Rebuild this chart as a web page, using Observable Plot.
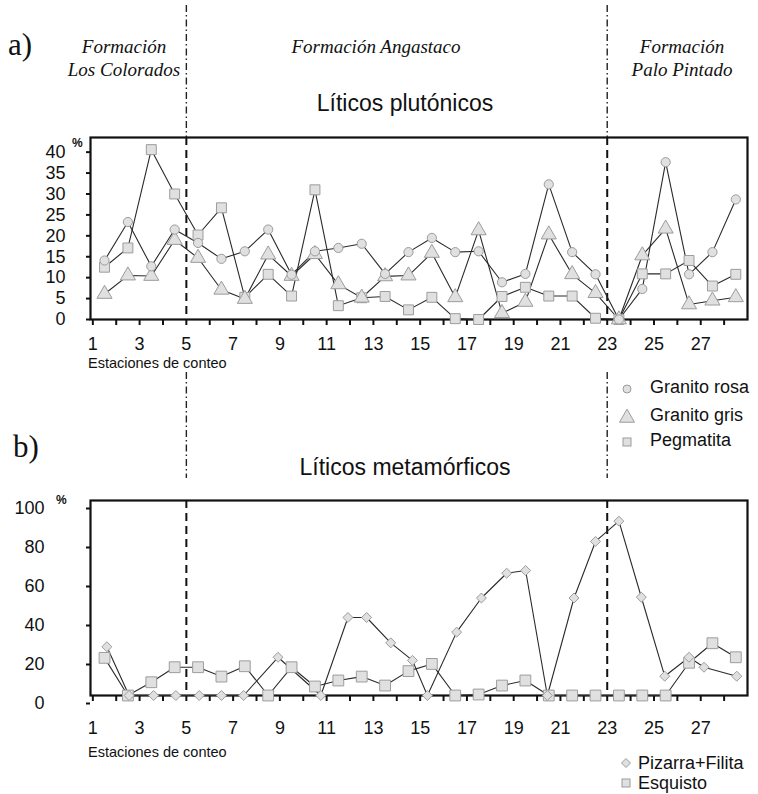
<!DOCTYPE html>
<html><head><meta charset="utf-8">
<script src="https://cdn.jsdelivr.net/npm/d3@7"></script>
<script src="https://cdn.jsdelivr.net/npm/@observablehq/plot@0.6"></script>
<style>
body{margin:0;background:#fff;}
#wrap{position:relative;width:758px;height:794px;font-family:"Liberation Sans",Arial,sans-serif;color:#111;overflow:hidden;}
#wrap svg.chart{position:absolute;left:0;}
.abs{position:absolute;white-space:nowrap;}
.form{font-family:"Liberation Serif",serif;font-style:italic;font-size:19px;line-height:23px;text-align:center;width:220px;}
.panel{font-family:"Liberation Serif",serif;font-size:31px;line-height:30px;}
.title{font-size:23px;line-height:26px;width:300px;text-align:center;}
.pct{font-size:12px;font-weight:bold;line-height:14px;}
.xl{font-size:14.5px;line-height:16px;}
.leg{font-size:18px;line-height:20px;}
</style></head><body><div id="wrap"></div>
<script>
// ---- data ----
const stations = d3.range(1, 29);            // counting stations 1..28
const boundaries = [5, 23];                   // formation boundaries
const formations = ["Formación\nLos Colorados", "Formación Angastaco", "Formación\nPalo Pintado"];

// a) Líticos plutónicos (%), one value per station (plotted mid-station)
const granitoRosa = [14.1, 23.3, 12.7, 21.5, 18.3, 14.5, 16.3, 21.5, 10.7, 16.3, 17.1, 18.1, 10.9, 16.1,
                     19.5, 16.1, 16.3, 8.9, 10.9, 32.3, 16.1, 10.8, 0, 7.3, 37.6, 10.8, 16.1, 28.7];
const granitoGris = [6.1, 10.5, 10.4, 19.0, 14.7, 7.1, 4.9, 15.5, 10.4, 15.6, 8.4, 5.2, 10.3, 10.5,
                     15.9, 5.3, 21.3, 1.5, 4.2, 20.3, 10.8, 6.3, 0, 15.3, 21.7, 3.6, 4.5, 5.3];
const pegmatita   = [12.5, 17.1, 40.6, 30.0, 20.2, 26.7, 5.3, 10.8, 5.6, 31.0, 3.3, 5.2, 5.5, 2.3,
                     5.3, 0.2, 0, 5.5, 7.7, 5.6, 5.6, 0.3, 0, 10.9, 10.9, 14.1, 8.0, 10.8];

// b) Líticos metamórficos (%)
const pizarraX = [1.6, 2.55, 3.6, 4.55, 5.55, 6.5, 7.45, 8.92, 10.75, 11.91, 12.71, 13.74, 14.67, 15.31,
                  16.56, 17.62, 18.7, 19.51, 20.44, 21.58, 22.5, 23.5, 24.46, 25.46, 26.5, 27.14, 28.54];
const pizarraFilita = [25, 0, 0, 0, 0, 0, 0, 19.6, 0, 40, 40, 27, 18, 0,
                       32.5, 50, 62.7, 64.1, 0, 50, 79, 89.4, 50.4, 9.9, 19.6, 14.5, 9.9];
const esquisto = [19.3, 0, 6.8, 14.5, 14.5, 9.7, 15.0, 0, 14.5, 4.6, 7.7, 9.7, 5.1, 12.5,
                  16.2, 0, 0.5, 5.1, 7.7, 0, 0, 0, 0, 0, 0, 16.8, 26.8, 19.6];

const yTicksA = d3.range(0, 41, 5);
const yTicksB = d3.range(0, 101, 20);

// ---- tables ----
const dataA = stations.map((s, i) => ({x: s + 0.5, rosa: granitoRosa[i], gris: granitoGris[i], peg: pegmatita[i]}));
const dataPiz = pizarraX.map((x, i) => ({x, v: pizarraFilita[i]}));
const dataEsq = stations.map((s, i) => ({x: s + 0.5, v: esquisto[i]}));

const FILL = "#e0e0e0", EDGE = "#9c9c9c", LINE = "#2a2a2a";
const xDomain = [0.9, 29.0];
const wrap = document.getElementById("wrap");

const xAxis = (pad) => Plot.axisX({ticks: stations, tickFormat: d => d % 2 ? String(d) : "",
  tickSize: 6, tickPadding: pad, strokeWidth: 2, label: null, fontSize: 18});

// ---- panel a ----
const chartA = Plot.plot({
  width: 758, height: 370,
  marginLeft: 90, marginRight: 11, marginTop: 137, marginBottom: 51,
  x: {domain: xDomain},
  y: {domain: [0, 43.5]},
  style: {fontFamily: "Liberation Sans, Arial, sans-serif", fontSize: "18px", color: "#111", background: "transparent"},
  marks: [
    Plot.ruleX(boundaries, {insetTop: -132, insetBottom: 182, stroke: "#222", strokeWidth: 1.4, strokeDasharray: "7,3,1.5,3"}),
    Plot.ruleX(boundaries, {stroke: "#111", strokeWidth: 2, strokeDasharray: "8,5"}),
    xAxis(12),
    Plot.axisY({ticks: yTicksA, tickSize: 4, tickPadding: 21, strokeWidth: 2, label: null, fontSize: 18}),
    Plot.frame({stroke: "#111", strokeWidth: 2.2}),
    Plot.line(dataA, {x: "x", y: "peg", stroke: LINE, strokeWidth: 1.1}),
    Plot.line(dataA, {x: "x", y: "gris", stroke: LINE, strokeWidth: 1.1}),
    Plot.line(dataA, {x: "x", y: "rosa", stroke: LINE, strokeWidth: 1.1}),
    Plot.dot(dataA, {x: "x", y: "peg", symbol: "square", r: 5.6, fill: FILL, stroke: EDGE, strokeWidth: 1}),
    Plot.dot(dataA, {x: "x", y: "gris", symbol: "triangle", r: 5.6, fill: FILL, stroke: EDGE, strokeWidth: 1}),
    Plot.dot(dataA, {x: "x", y: "rosa", symbol: "circle", r: 4.6, fill: FILL, stroke: EDGE, strokeWidth: 1})
  ]
});
chartA.classList.add("chart");
chartA.style.top = "0px";
wrap.appendChild(chartA);

// ---- panel b ----
const chartB = Plot.plot({
  width: 758, height: 424,
  marginLeft: 90, marginRight: 11, marginTop: 130, marginBottom: 99,
  x: {domain: xDomain},
  y: {domain: [0, 100]},
  style: {fontFamily: "Liberation Sans, Arial, sans-serif", fontSize: "18px", color: "#111", background: "transparent"},
  marks: [
    Plot.ruleX(boundaries, {insetTop: -128, insetBottom: 217, stroke: "#222", strokeWidth: 1.4, strokeDasharray: "7,3,1.5,3"}),
    Plot.ruleX(boundaries, {stroke: "#111", strokeWidth: 2, strokeDasharray: "8,5"}),
    xAxis(20),
    Plot.axisY({ticks: yTicksB, tickSize: 4, tickPadding: 42, strokeWidth: 2, label: null, fontSize: 18, dy: 8}),
    Plot.frame({stroke: "#111", strokeWidth: 2.2}),
    Plot.line(dataEsq, {x: "x", y: "v", stroke: LINE, strokeWidth: 1.1}),
    Plot.line(dataPiz, {x: "x", y: "v", stroke: LINE, strokeWidth: 1.1}),
    Plot.dot(dataEsq, {x: "x", y: "v", symbol: "square", r: 6.1, fill: FILL, stroke: EDGE, strokeWidth: 1}),
    Plot.dot(dataPiz, {x: "x", y: "v", symbol: "diamond2", r: 4.5, fill: FILL, stroke: EDGE, strokeWidth: 1})
  ]
});
chartB.classList.add("chart");
chartB.style.top = "370px";
wrap.appendChild(chartB);

// ---- texts ----
function addText(html, cls, left, top, extra) {
  const d = document.createElement("div");
  d.className = "abs " + cls;
  d.innerHTML = html;
  d.style.left = left + "px";
  d.style.top = top + "px";
  if (extra) Object.assign(d.style, extra);
  wrap.appendChild(d);
  return d;
}
addText("a)", "panel", 8, 30);
addText("b)", "panel", 13, 432);
addText(formations[0].replace("\n", "<br>"), "form", 124 - 110, 35);
addText(formations[1], "form", 376 - 110, 35);
addText(formations[2].replace("\n", "<br>"), "form", 682 - 110, 35);
addText("Líticos plutónicos", "title", 405 - 150, 90);
addText("Líticos metamórficos", "title", 405 - 150, 454);
addText("%", "pct", 72, 136);
addText("%", "pct", 56, 493);
addText("Estaciones de conteo", "xl", 88, 355);
addText("Estaciones de conteo", "xl", 88, 744);

// ---- legends ----
function sym(kind, size) {
  const s = 20, c = s / 2;
  let shape = "";
  if (kind === "circle") shape = `<circle cx="${c}" cy="${c}" r="${size/2}"/>`;
  if (kind === "square") shape = `<rect x="${c-size/2}" y="${c-size/2}" width="${size}" height="${size}"/>`;
  if (kind === "triangle") { const h = size * 0.87; shape = `<polygon points="${c},${c-h*0.6} ${c+size/2},${c+h*0.4} ${c-size/2},${c+h*0.4}"/>`; }
  if (kind === "diamond") shape = `<polygon points="${c},${c-size/2} ${c+size/2},${c} ${c},${c+size/2} ${c-size/2},${c}"/>`;
  return `<svg width="${s}" height="${s}" style="display:block"><g fill="${FILL}" stroke="${EDGE}" stroke-width="1">${shape}</g></svg>`;
}
const legendA = [["circle", 8, "Granito rosa", 387], ["triangle", 15, "Granito gris", 415], ["square", 8, "Pegmatita", 440]];
legendA.forEach(([k, sz, label, cy]) => {
  addText(sym(k, sz), "", 617, cy - 10 + 2);
  addText(label, "leg", 650, cy - 10);
});
const legendB = [["diamond", 9, "Pizarra+Filita", 763], ["square", 8, "Esquisto", 783]];
legendB.forEach(([k, sz, label, cy]) => {
  addText(sym(k, sz), "", 616, cy - 10);
  addText(label, "leg", 638, cy - 10);
});
</script></body></html>
